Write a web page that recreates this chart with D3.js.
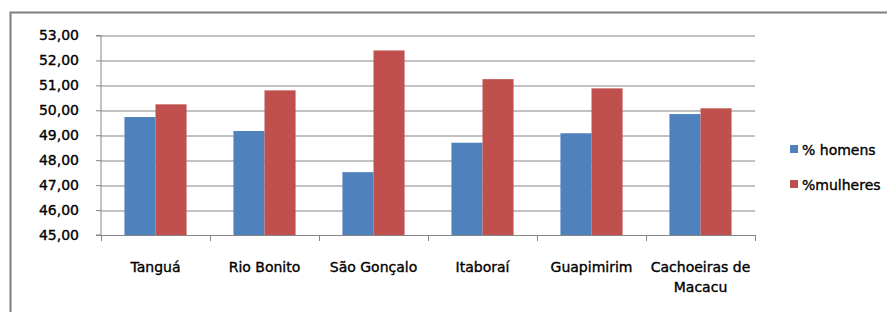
<!DOCTYPE html>
<html>
<head>
<meta charset="utf-8">
<script src="https://cdn.jsdelivr.net/npm/d3@7"></script>
<style>
  body { margin: 0; background: #fff; }
  text { font-family: "DejaVu Sans", sans-serif; font-size: 14px; fill: #000; stroke: #000; stroke-width: 0.35px; }
</style>
</head>
<body>
<svg width="887" height="312"></svg>
<script>
// values
var municipios = ["Tanguá", "Rio Bonito", "São Gonçalo", "Itaboraí", "Guapimirim", "Cachoeiras de Macacu"];
var homens = [49.73, 49.17, 47.52, 48.70, 49.08, 49.85];
var mulheres = [50.24, 50.80, 52.40, 51.25, 50.88, 50.08];
var series = ["% homens", "%mulheres"];
var cores = ["#4F81BD", "#C0504D"];
var yTicks = [45, 46, 47, 48, 49, 50, 51, 52, 53];

var svg = d3.select("svg"),
    margin = { top: 35.5, left: 101, right: 132, bottom: 77 },
    width = +svg.attr("width") - margin.left - margin.right,
    height = +svg.attr("height") - margin.top - margin.bottom;

// outer frame of the chart area
svg.append("rect")
    .attr("x", 10.5).attr("y", 12.5)
    .attr("width", 950).attr("height", 400)
    .attr("fill", "none")
    .attr("stroke", "#7f7f7f")
    .attr("stroke-width", 2);

var g = svg.append("g")
    .attr("transform", "translate(" + margin.left + "," + margin.top + ")");

var x0 = d3.scaleBand().domain(municipios).range([0, width]);
var x1 = d3.scaleBand().domain(series)
    .range([x0.bandwidth() * 0.215, x0.bandwidth() * 0.785]);
var y = d3.scaleLinear().domain([45, 53]).range([height, 0]);

// gridlines
g.append("g")
    .selectAll("line")
    .data(yTicks.slice(1))
    .enter().append("line")
    .attr("x1", 0).attr("x2", width)
    .attr("y1", d => Math.round(y(d)) + 0.5)
    .attr("y2", d => Math.round(y(d)) + 0.5)
    .attr("stroke", "#868686");

// bars
var rows = municipios.map((m, i) => ({ m: m, vals: [homens[i], mulheres[i]] }));
g.selectAll(".grp")
    .data(rows)
    .enter().append("g")
    .attr("class", "grp")
    .attr("transform", d => "translate(" + x0(d.m) + ",0)")
    .selectAll("rect")
    .data(d => d.vals.map((v, j) => ({ s: series[j], v: v, c: cores[j] })))
    .enter().append("rect")
    .attr("x", d => x1(d.s))
    .attr("y", d => y(d.v))
    .attr("width", x1.bandwidth())
    .attr("height", d => height - y(d.v))
    .attr("fill", d => d.c);

// y axis
var yAxis = g.append("g")
    .call(d3.axisLeft(y).tickValues(yTicks).tickSize(5).tickPadding(17)
        .tickFormat(d => d3.format(".2f")(d).replace(".", ",")));
yAxis.select(".domain").attr("stroke", "#868686").attr("d", "M-5," + height + "H0V0H-5");
yAxis.selectAll(".tick line").attr("stroke", "#868686");
yAxis.selectAll(".tick text").style("font-size", "14px").style("font-family", "DejaVu Sans");

// x axis: baseline with ticks at band boundaries
var xa = g.append("g").attr("transform", "translate(0," + height + ")");
xa.append("line").attr("x1", 0).attr("x2", width).attr("y1", 0.5).attr("y2", 0.5)
    .attr("stroke", "#868686");
xa.selectAll(".bt")
    .data(municipios.concat(["end"]))
    .enter().append("line")
    .attr("x1", (d, i) => Math.round(i * x0.step()) + 0.5)
    .attr("x2", (d, i) => Math.round(i * x0.step()) + 0.5)
    .attr("y1", 0).attr("y2", 6)
    .attr("stroke", "#868686");

var labels = { "Cachoeiras de Macacu": ["Cachoeiras de", "Macacu"] };
xa.selectAll(".lbl")
    .data(municipios)
    .enter().append("text")
    .attr("text-anchor", "middle")
    .attr("transform", d => "translate(" + (x0(d) + x0.bandwidth() / 2) + ",37)")
    .selectAll("tspan")
    .data(d => labels[d] || [d])
    .enter().append("tspan")
    .attr("x", 0)
    .attr("y", (d, i) => i * 20)
    .text(d => d);

// legend
var leg = svg.append("g").attr("transform", "translate(790,145)");
series.forEach(function (s, i) {
    leg.append("rect")
        .attr("x", 0).attr("y", i * 35)
        .attr("width", 8).attr("height", 8)
        .attr("fill", cores[i]);
    leg.append("text")
        .attr("x", 12).attr("y", i * 35 + 9.5)
        .text(s);
});
</script>
</body>
</html>
